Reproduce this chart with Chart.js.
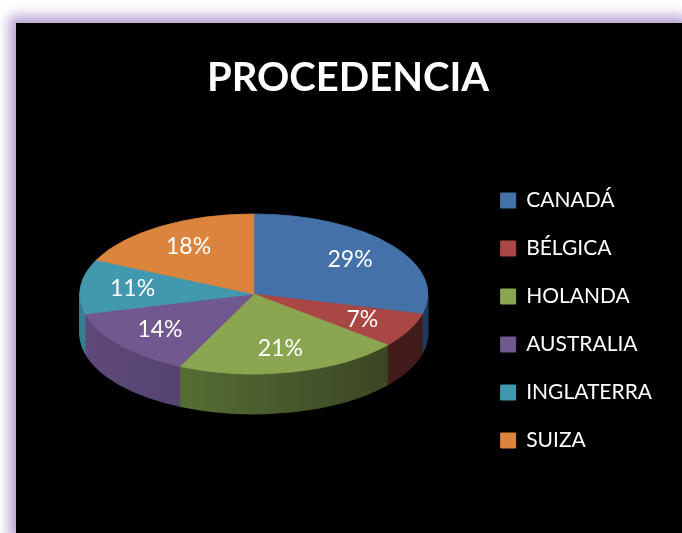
<!DOCTYPE html>
<html>
<head>
<meta charset="utf-8">
<script src="https://cdn.jsdelivr.net/npm/chart.js@4/dist/chart.umd.min.js"></script>
<style>
  html, body { margin: 0; padding: 0; background: #fff; width: 682px; height: 533px; overflow: hidden; }
  #marco {
    position: absolute; left: 16px; top: 23px; width: 666px; height: 510px;
    background: #000;
    box-shadow: 0 0 12px 7px #b6a1d1;
  }
</style>
</head>
<body>
<div id="marco"><canvas id="grafico" width="666" height="510"></canvas></div>
<script>
// datos del gráfico
const paises = ["CANADÁ", "BÉLGICA", "HOLANDA", "AUSTRALIA", "INGLATERRA", "SUIZA"];
const porcentajes = [29, 7, 21, 14, 11, 18];

// colores de cara superior y del lateral (izq -> der)
const coresTopo = ["#4472a8", "#a84744", "#8ba651", "#71588f", "#4298af", "#db843d"];
const coresLadoClaro = ["#3b6193", "#6e2e2c", "#62803a", "#5f4a7b", "#367f93", "#b86c30"];
const coresLadoEscuro = ["#22385a", "#3e1a19", "#363f22", "#3e3150", "#1f4c58", "#7a4520"];

// "3D": achata a pizza e empilha camadas escuras por baixo
const pizza3d = {
  id: "pizza3d",
  beforeDatasetsDraw(chart, args, opts) {
    const ctx = chart.ctx;
    const meta = chart.getDatasetMeta(0);
    const arco = meta.data[0];
    if (!arco) return;
    const cx = arco.x, cy = arco.y, r = arco.outerRadius;
    const k = opts.inclinacao, prof = opts.profundidade;

    const gradientes = meta.data.map((_, i) => {
      const g = ctx.createLinearGradient(cx - r, 0, cx + r, 0);
      g.addColorStop(0, coresLadoClaro[i]);
      g.addColorStop(1, coresLadoEscuro[i]);
      return g;
    });

    for (let d = prof; d > 0; d--) {
      ctx.save();
      ctx.translate(cx, cy - prof / 2 + d);
      ctx.scale(1, k);
      ctx.translate(-cx, -cy);
      meta.data.forEach((el, i) => {
        const camada = Object.create(el);
        camada.options = Object.assign({}, el.options, {
          backgroundColor: gradientes[i],
          borderColor: gradientes[i],
        });
        camada.draw(ctx);
      });
      ctx.restore();
    }

    ctx.save();
    ctx.translate(cx, cy - prof / 2);
    ctx.scale(1, k);
    ctx.translate(-cx, -cy);
  },
  afterDatasetsDraw(chart, args, opts) {
    const ctx = chart.ctx;
    ctx.restore();

    // rótulos de porcentagem
    const meta = chart.getDatasetMeta(0);
    const k = opts.inclinacao, prof = opts.profundidade;
    ctx.save();
    ctx.fillStyle = "#fff";
    ctx.font = "23px Lato";
    ctx.textAlign = "center";
    ctx.textBaseline = "middle";
    meta.data.forEach((el, i) => {
      const { x, y, startAngle, endAngle, outerRadius } = el.getProps(["x", "y", "startAngle", "endAngle", "outerRadius"]);
      const meio = (startAngle + endAngle) / 2;
      const px = x + Math.cos(meio) * outerRadius * opts.raioRotulo;
      const py = y - prof / 2 + Math.sin(meio) * outerRadius * opts.raioRotulo * k;
      ctx.fillText(porcentajes[i] + "%", px, py);
    });
    ctx.restore();
  },
};

new Chart(document.getElementById("grafico"), {
  type: "pie",
  data: {
    labels: paises,
    datasets: [{
      data: porcentajes,
      backgroundColor: coresTopo,
      borderColor: coresTopo,
      borderWidth: 1,
      radius: 174,
      clip: false,
    }],
  },
  options: {
    responsive: false,
    animation: false,
    layout: { padding: { left: 18, right: 20, top: 0, bottom: 55 } },
    plugins: {
      title: {
        display: true,
        text: "PROCEDENCIA",
        color: "#fff",
        font: { family: "Lato", size: 40, weight: "bold", lineHeight: 1.2 },
        padding: { top: 31, bottom: 48 },
      },
      legend: {
        position: "right",
        align: "end",
        labels: {
          color: "#fff",
          font: { family: "Lato", size: 21 },
          boxWidth: 15,
          boxHeight: 15,
          padding: 27,
        },
      },
      tooltip: { enabled: false },
      pizza3d: { inclinacao: 0.46, profundidade: 40, raioRotulo: 0.7 },
    },
  },
  plugins: [pizza3d],
});
</script>
</body>
</html>
